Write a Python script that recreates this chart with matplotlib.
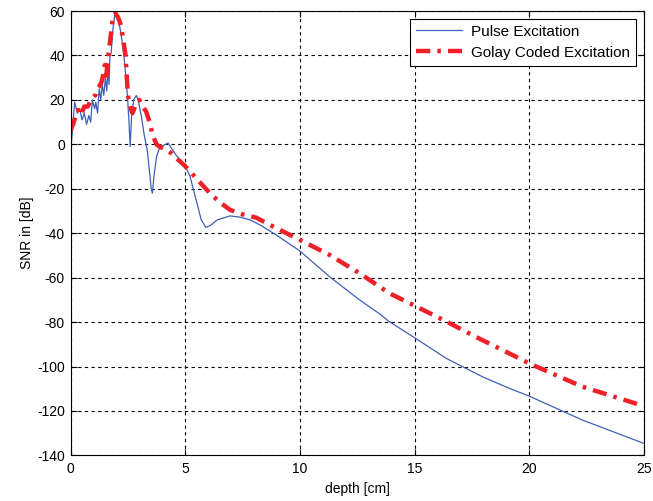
import matplotlib
matplotlib.use("Agg")
import matplotlib.pyplot as plt

plt.rcParams["font.family"] = ["Liberation Sans", "DejaVu Sans"]
plt.rcParams["axes.unicode_minus"] = False

# SNR versus depth for single-pulse and Golay-coded excitation
depth_pulse = [0.0, 0.05, 0.18, 0.3, 0.4, 0.5, 0.6, 0.7, 0.8, 0.88, 0.95, 1.05,
               1.1, 1.18, 1.25, 1.32, 1.38, 1.45, 1.52, 1.58, 1.63, 1.68, 1.72,
               1.77, 1.85, 1.95, 2.05, 2.2, 2.33, 2.48, 2.55, 2.6, 2.66, 2.75,
               2.87, 2.95, 3.1, 3.2, 3.35, 3.45, 3.52, 3.57, 3.63, 3.75, 3.9,
               4.05, 4.25, 4.6, 5.0, 5.2, 5.5, 5.7, 5.9, 6.1, 6.4, 6.96, 7.4,
               7.83, 8.3, 9.0, 10.0, 11.3, 12.6, 13.48, 13.9, 15.0, 16.38,
               18.0, 19.13, 20.0, 22.3, 25.0]
snr_pulse = [-3, 2, 19, 14, 16, 11, 14, 9, 13, 10, 20, 16,
             19, 14, 25, 20, 27, 22, 30, 24, 34, 27, 40,
             41, 52, 60, 58, 50, 40, 22, 10, -1, 12, 20,
             22, 20, 12, 5, -3, -13, -20, -22, -15, -5.5, -1,
             -0.5, 0.6, -4.8, -10, -14, -26, -34, -37.4, -36.5, -34, -32.2, -32.8,
             -34, -36.5, -41, -48, -59.6, -70, -76.3, -79.8, -87, -96.3,
             -104.8, -109.8, -113.3, -124, -134.6]

depth_golay = [0.0, 0.05, 0.1, 0.2, 0.33, 0.45, 0.6, 0.75, 0.9, 1.0, 1.1, 1.18,
               1.25, 1.35, 1.42, 1.5, 1.56, 1.63, 1.7, 1.83, 1.96, 2.08, 2.2,
               2.4, 2.5, 2.6, 2.7, 2.85, 3.0, 3.15, 3.3, 3.45, 3.58, 3.75, 3.87,
               4.1, 4.4, 4.7, 5.0, 5.5, 6.08, 6.5, 6.96, 7.5, 8.1, 8.7, 10.0,
               11.3, 12.6, 13.9, 15.0, 16.38, 17.8, 19.27, 20.0, 22.3, 25.0]
snr_golay = [6, 7.7, 8.7, 12, 15.5, 13, 17, 17, 20, 21, 22.5, 25,
             26, 28, 31, 35.7, 31, 38.5, 44, 56, 59, 57, 53.6,
             40, 22, 17, 14, 18, 20, 17, 14.7, 10, 4.2, 0, -1,
             -2, -4, -7, -9.8, -15.5, -22, -26, -29.5, -31.5, -33, -36.3, -43,
             -49.8, -58, -67, -72.6, -79.7, -87.3, -94.8, -98.6, -109, -117.8]

x_ticks = [0, 5, 10, 15, 20, 25]
y_ticks = [-140, -120, -100, -80, -60, -40, -20, 0, 20, 40, 60]

fig = plt.figure(figsize=(6.53, 5.01), dpi=100)
ax = fig.add_axes([0.108, 0.091, 0.878, 0.887])

ax.plot(depth_pulse, snr_pulse, color="#3f5fb8", lw=0.9, label="Pulse Excitation")
ax.plot(depth_golay, snr_golay, color="#f02028", lw=3.2,
        linestyle=(0, (3.2, 1.6, 0.8, 1.6)), label="Golay Coded Excitation")

ax.set_xlim(0, 25)
ax.set_ylim(-140, 60)
ax.set_xticks(x_ticks)
ax.set_yticks(y_ticks)
ax.tick_params(direction="in", top=True, right=True, labelsize=10, length=4,
               width=0.8, colors="black")
ax.tick_params(axis="x", pad=5)
ax.tick_params(axis="y", pad=4)
ax.grid(True, color="black", linestyle=(0, (3, 3)), linewidth=0.8)
for s in ax.spines.values():
    s.set_linewidth(0.8)
    s.set_color("black")

ax.set_xlabel("depth [cm]", fontsize=10, labelpad=4)
ax.set_ylabel("SNR in [dB]", fontsize=10, labelpad=2)

leg = ax.legend(loc="upper right", fontsize=11, fancybox=False, framealpha=1,
                edgecolor="black", borderaxespad=0.5, handlelength=3.0,
                borderpad=0.4, labelspacing=0.45, handletextpad=0.6)
leg.get_frame().set_linewidth(0.8)

fig.savefig("out.png", dpi=100)
